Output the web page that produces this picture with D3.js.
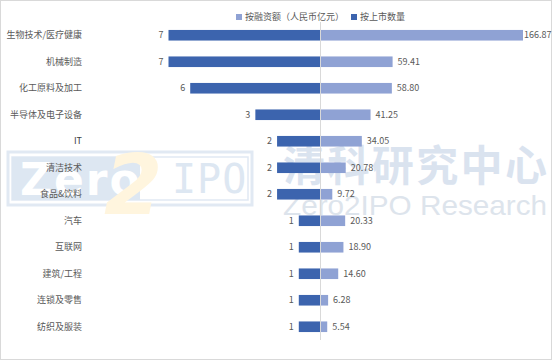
<!DOCTYPE html>
<html><head><meta charset="utf-8">
<script src="https://cdn.jsdelivr.net/npm/d3@7"></script>
<style>html,body{margin:0;padding:0;background:#fff}svg{display:block}</style>
</head><body>
<script>
const categories = ["生物技术/医疗健康","机械制造","化工原料及加工","半导体及电子设备","IT","清洁技术","食品&饮料","汽车","互联网","建筑/工程","连锁及零售","纺织及服装"];
const listingCounts = [7,7,6,3,2,2,2,1,1,1,1,1];
const financingAmounts = [166.87,59.41,58.80,41.25,34.05,20.78,9.72,20.33,18.90,14.60,6.28,5.54];
const seriesNames = ["按融资额（人民币亿元）","按上市数量"];

const W = 553, H = 361, cx = 320.5;
const font = "'Noto Sans CJK SC','Noto Sans',sans-serif";
const svg = d3.select("body").append("svg").attr("width", W).attr("height", H);

// border
svg.append("rect").attr("x",0.5).attr("y",0.5).attr("width",W-2).attr("height",H-2)
  .attr("fill","#fff").attr("stroke","#d9d9d9");

// watermark
const wm = svg.append("g");
wm.append("rect").attr("x",8).attr("y",152).attr("width",244).attr("height",53)
  .attr("fill","none").attr("stroke","#e1e9f3").attr("stroke-width",3);
wm.append("rect").attr("x",12).attr("y",157).attr("width",236).attr("height",43)
  .attr("fill","none").attr("stroke","#e1e9f3").attr("stroke-width",1.5);
wm.append("rect").attr("x",12).attr("y",157).attr("width",128).attr("height",43)
  .attr("fill","#dde7f2");
wm.append("text").attr("x",20).attr("y",195).attr("font-family","'DejaVu Sans',sans-serif")
  .attr("font-weight","bold").attr("font-size",44).attr("fill","#fff").attr("letter-spacing",2).text("Zero");
wm.append("text").attr("x",104).attr("y",214).attr("font-family","'DejaVu Sans',sans-serif")
  .attr("font-weight","bold").attr("font-style","italic").attr("font-size",84).attr("fill","#fff5de").text("2");
wm.append("text").attr("x",172).attr("y",193).attr("font-family","'DejaVu Sans Mono',monospace")
  .attr("font-size",40).attr("fill","#dde7f2").attr("letter-spacing",1).text("IPO");
wm.append("text").attr("x",283).attr("y",181).attr("font-family",font).attr("font-weight","bold")
  .attr("font-size",42).attr("fill","#dae3ef").attr("textLength",264).attr("lengthAdjust","spacing").text("清科研究中心");
wm.append("text").attr("x",283).attr("y",215).attr("font-family","'Liberation Sans',Arial,sans-serif")
  .attr("font-size",28).attr("fill","#dde4ec").attr("textLength",264).attr("lengthAdjust","spacingAndGlyphs").text("Zero2IPO Research");

const y = d3.scaleBand().domain(categories).range([22, 340]).paddingInner(0.6).paddingOuter(0.3);
const xL = d3.scaleLinear().domain([0, 7]).range([0, 152]);
const xR = d3.scaleLinear().domain([0, 166.87]).range([0, 202.5]);

const dark = "#3c64ae", light = "#8fa2d4", txt = "#595959";

// left bars (counts)
svg.append("g").selectAll("rect").data(categories).join("rect")
  .attr("x", (d,i)=>cx - xL(listingCounts[i])).attr("y", d=>y(d))
  .attr("width", (d,i)=>xL(listingCounts[i])).attr("height", y.bandwidth()).attr("fill", dark);
// right bars (financing)
svg.append("g").selectAll("rect").data(categories).join("rect")
  .attr("x", cx).attr("y", d=>y(d))
  .attr("width", (d,i)=>xR(financingAmounts[i])).attr("height", y.bandwidth()).attr("fill", light);

// center axis line
svg.append("line").attr("x1",cx).attr("x2",cx).attr("y1",y.range()[0]).attr("y2",y.range()[1])
  .attr("stroke","#d9d9d9").attr("stroke-width",1);

// left value labels
svg.append("g").selectAll("text").data(categories).join("text")
  .attr("x",(d,i)=>cx - xL(listingCounts[i]) - 5).attr("y", d=>y(d)+y.bandwidth()/2)
  .attr("dy","0.35em").attr("text-anchor","end").attr("font-family",font).attr("font-size",9)
  .attr("fill",txt).text((d,i)=>listingCounts[i]);
// right value labels
const rl = svg.append("g").selectAll("text").data(categories).join("text")
  .attr("y", d=>y(d)+y.bandwidth()/2)
  .attr("dy","0.35em").attr("font-family",font).attr("font-size",9)
  .attr("fill",txt).text((d,i)=>financingAmounts[i].toFixed(2));
rl.each(function(d,i){
  const w = this.getComputedTextLength();
  const x = Math.min(cx + xR(financingAmounts[i]) + 5, W - 4 - w);
  d3.select(this).attr("x", Math.max(x, cx + xR(financingAmounts[i]) + 1));
});

// category labels
svg.append("g").selectAll("text").data(categories).join("text")
  .attr("x",82).attr("y", d=>y(d)+y.bandwidth()/2).attr("dy","0.35em")
  .attr("text-anchor","end").attr("font-family",font).attr("font-size",9)
  .attr("fill",d=>d==="IT"?"#404040":txt).text(d=>d);

// legend
const leg = [{name:seriesNames[0], c:light, x:236},{name:seriesNames[1], c:dark, x:351}];
const lg = svg.append("g");
leg.forEach(l=>{
  lg.append("rect").attr("x",l.x).attr("y",14).attr("width",6).attr("height",6).attr("fill",l.c);
  lg.append("text").attr("x",l.x+9).attr("y",17).attr("dy","0.35em").attr("font-family",font)
    .attr("font-size",9).attr("fill",txt).text(l.name);
});
</script>
</body></html>
